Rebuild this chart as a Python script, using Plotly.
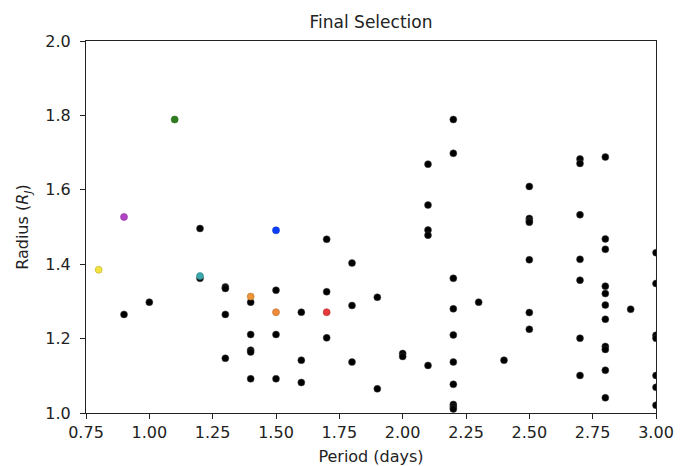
import plotly.graph_objects as go

# Black (unselected) candidates
black_period = [0.9, 1.0, 1.2, 1.2,
                1.3, 1.3, 1.3, 1.3,
                1.4, 1.4, 1.4, 1.4, 1.4,
                1.5, 1.5, 1.5,
                1.6, 1.6, 1.6,
                1.7, 1.7, 1.7,
                1.8, 1.8, 1.8,
                1.9, 1.9,
                2.0, 2.0,
                2.1, 2.1, 2.1, 2.1, 2.1,
                2.2, 2.2, 2.2, 2.2, 2.2, 2.2, 2.2, 2.2, 2.2, 2.2,
                2.3, 2.4,
                2.5, 2.5, 2.5, 2.5, 2.5, 2.5, 2.5,
                2.7, 2.7, 2.7, 2.7, 2.7, 2.7, 2.7,
                2.8, 2.8, 2.8, 2.8, 2.8, 2.8, 2.8, 2.8, 2.8, 2.8, 2.8,
                2.9,
                3.0, 3.0, 3.0, 3.0, 3.0, 3.0, 3.0]
black_radius = [1.265, 1.298, 1.496, 1.362,
                1.339, 1.335, 1.265, 1.147,
                1.298, 1.211, 1.169, 1.164, 1.092,
                1.330, 1.211, 1.092,
                1.271, 1.142, 1.082,
                1.467, 1.326, 1.202,
                1.403, 1.289, 1.137,
                1.311, 1.065,
                1.160, 1.152,
                1.669, 1.559, 1.492, 1.478, 1.128,
                1.789, 1.698, 1.362, 1.280, 1.210, 1.137, 1.077, 1.023, 1.017, 1.011,
                1.298, 1.142,
                1.609, 1.523, 1.517, 1.513, 1.412, 1.270, 1.225,
                1.683, 1.671, 1.533, 1.413, 1.357, 1.201, 1.101,
                1.688, 1.468, 1.440, 1.341, 1.321, 1.290, 1.252, 1.179, 1.171, 1.115, 1.041,
                1.279,
                1.431, 1.348, 1.209, 1.201, 1.101, 1.069, 1.021]

# Final selection (coloured)
sel_period = [0.8, 0.9, 1.1, 1.2, 1.4, 1.5, 1.5, 1.7]
sel_radius = [1.385, 1.527, 1.789, 1.368, 1.313, 1.491, 1.271, 1.271]
sel_colors = ["#f2e43c", "#b042c4", "#2f7d20", "#3aa8ab", "#ee9438", "#0b3dfa", "#ee8a3a", "#e63a3a"]
sel_edges = ["#b8ad3a", "#8e3aa0", "#2a6a1e", "#2f8486", "#c07a30", "#0a33c8", "#c07030", "#b83030"]

x_ticks = [0.75, 1.00, 1.25, 1.50, 1.75, 2.00, 2.25, 2.50, 2.75, 3.00]
y_ticks = [1.0, 1.2, 1.4, 1.6, 1.8, 2.0]

FONT = "DejaVu Sans"

fig = go.Figure()
fig.add_trace(go.Scatter(
    x=black_period, y=black_radius, mode="markers",
    marker=dict(size=7, color="black", line=dict(width=0.5, color="#444444")),
    showlegend=False, hoverinfo="x+y"))
fig.add_trace(go.Scatter(
    x=sel_period, y=sel_radius, mode="markers",
    marker=dict(size=7, color=sel_colors, line=dict(width=0.6, color=sel_edges)),
    showlegend=False, hoverinfo="x+y"))

axis_common = dict(
    showline=True, linecolor="#222222", linewidth=1, mirror=True,
    ticks="outside", ticklen=5, tickwidth=1, tickcolor="#222222",
    showgrid=False, zeroline=False, automargin=False,
    tickfont=dict(family=FONT, size=16, color="#222222"),
)

fig.update_layout(
    width=685, height=466,
    margin=dict(l=86, r=29, t=41, b=53, autoexpand=False),
    paper_bgcolor="white", plot_bgcolor="white",
    font=dict(family=FONT, color="#222222"),
    title=dict(text="Final Selection", x=0.5, xref="paper", xanchor="center",
               y=1 - 22 / 466, yref="container", yanchor="middle",
               automargin=False,
               font=dict(family=FONT, size=17, color="#222222")),
    xaxis=dict(range=[0.75, 3.0], tickvals=x_ticks,
               ticktext=[f"{v:.2f}" for v in x_ticks],
               title=dict(text="Period (days)", font=dict(family=FONT, size=16), standoff=9),
               **axis_common),
    yaxis=dict(range=[1.0, 2.0], tickvals=y_ticks,
               ticktext=[f"{v:.1f}" for v in y_ticks],
               ticklabelstandoff=6,
               title=dict(text="Radius (<i>R</i><sub><i>J</i></sub>)",
                          font=dict(family=FONT, size=16), standoff=12),
               **axis_common),
)

fig.write_html("out.html", config={"displayModeBar": False},
               post_script="document.body.style.margin='0px';")
